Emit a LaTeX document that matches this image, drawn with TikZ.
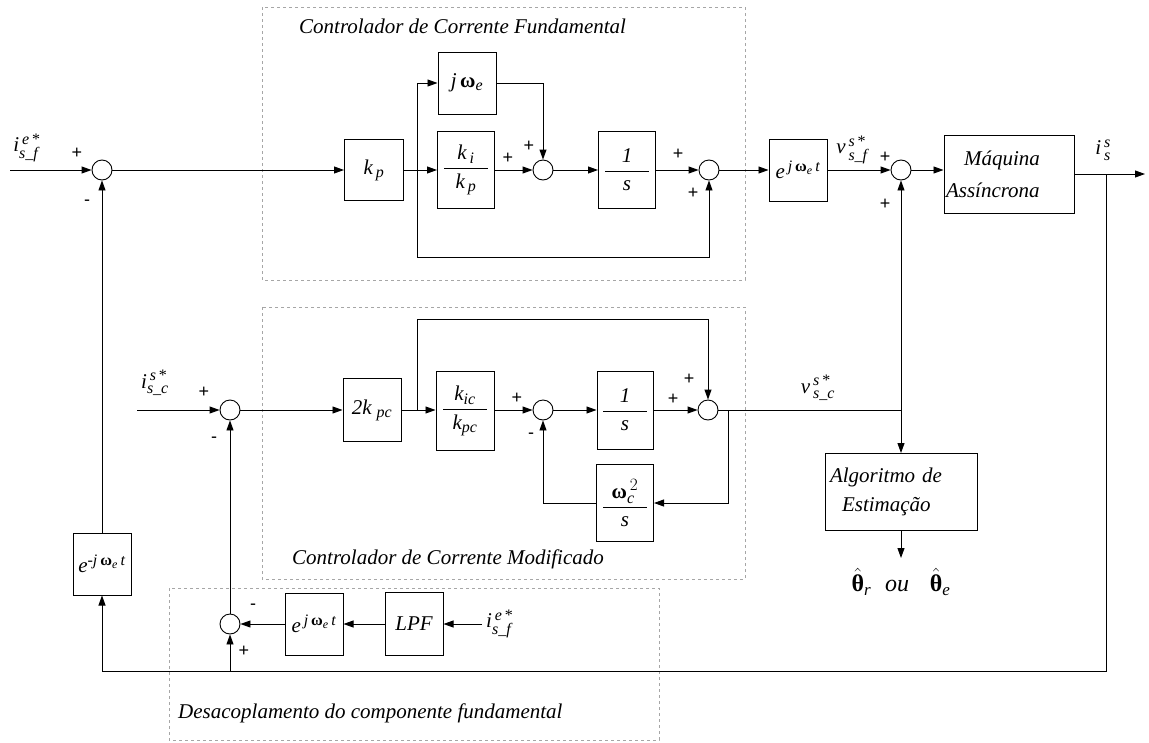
\documentclass[tikz,border=0pt]{standalone}
\usepackage{amsmath}
\usepackage{fontspec}
\setmainfont{Liberation Serif}
\setsansfont{Liberation Sans}
\usetikzlibrary{arrows.meta}
\DeclareMathSizes{21}{21}{16}{12}
\DeclareMathSizes{24}{24}{17}{13}
\newcommand\ti[1]{\text{\itshape #1}}
\newcommand\bw{\text{\bfseries ω}}
\newcommand\bth{\text{\bfseries θ}}
\newcommand\fr[2]{$\dfrac{\makebox[44pt]{$#1$}}{\makebox[44pt]{$#2$}}$}
\begin{document}
\begin{tikzpicture}[x=1pt,y=-1pt,
  font=\fontsize{21}{25}\selectfont,
  >={Triangle[length=10pt,width=7pt]},
  blk/.style={draw,line width=1pt,inner sep=0pt},
  sumj/.style={draw,circle,minimum size=20pt,inner sep=0pt,line width=0.9pt},
  sgn/.style={font=\sffamily\fontsize{18}{18}\selectfont,inner sep=0pt},
  grp/.style={draw=gray!70,line width=0.8pt,dash pattern=on 3pt off 3pt},
  ttl/.style={font=\itshape\fontsize{21}{25}\selectfont,anchor=west,inner sep=0pt},
  sig/.style={inner sep=0pt},
  flow/.style={->,line width=0.9pt},
  wire/.style={line width=0.9pt}]
\useasboundingbox (0,0) rectangle (1149,742);

% dashed group frames
\draw[grp] (262,7) rectangle (745,280);
\draw[grp] (262,307) rectangle (745,579);
\draw[grp] (169,588) rectangle (659,740);
\node[ttl] (t1) at (299,26) {Controlador de Corrente Fundamental};
\node[ttl] (t2) at (292,559) {Controlador de Corrente Modificado};
\node[ttl] (t3) at (178,713) {Desacoplamento do componente fundamental};

% summing junctions
\node[sumj] (s1) at (102,170) {};
\node[sumj] (s2) at (543,170) {};
\node[sumj] (s3) at (709,170) {};
\node[sumj] (s4) at (901,170) {};
\node[sumj] (s5) at (230,410) {};
\node[sumj] (s6) at (543,410) {};
\node[sumj] (s7) at (708,410) {};
\node[sumj] (s8) at (230,624) {};

% blocks of the fundamental current controller
\node[blk,minimum width=59pt,minimum height=61pt] (kp) at (374,170) {$\ti{k}_{\,\ti{p}}$};
\node[blk,minimum width=58pt,minimum height=62pt] (jw) at (467,83) {$\ti{j}\,\bw_{\ti{e}}$};
\node[blk,minimum width=57pt,minimum height=77pt] (kikp) at (466,170) {\fr{\ti{k}_{\,\ti{i}}}{\ti{k}_{\,\ti{p}}}};
\node[blk,minimum width=57pt,minimum height=77pt] (inv1) at (627,170) {\fr{\ti{1}}{\ti{s}}};
\node[blk,minimum width=58pt,minimum height=62pt] (ejw1) at (798,170) {$\ti{e}^{\,\ti{j}\,\bw_{\ti{e}}\,\ti{t}}$};
\node[blk,minimum width=130pt,minimum height=78pt,align=left,text width=126pt,font=\itshape\fontsize{21}{32}\selectfont] (mach) at (1009,174) {\hspace*{18pt}Máquina\\Assíncrona};

% blocks of the modified current controller
\node[blk,minimum width=58pt,minimum height=63pt] (twokpc) at (372,410) {$\ti{2k}_{\;\ti{pc}}$};
\node[blk,minimum width=58pt,minimum height=79pt] (kic) at (465,411) {\fr{\ti{k}_{\ti{ic}}}{\ti{k}_{\ti{pc}}}};
\node[blk,minimum width=56pt,minimum height=78pt] (inv2) at (625,410) {\fr{\ti{1}}{\ti{s}}};
\node[blk,minimum width=57pt,minimum height=77pt] (wc) at (625,503) {\fr{\bw^{\,2}_{\ti{c}}}{\ti{s}}};
\node[blk,minimum width=152pt,minimum height=77pt,align=left,text width=142pt,font=\itshape\fontsize{21}{29}\selectfont] (alg) at (901,492) {Algoritmo de\\\hspace*{12pt}Estimação};

% decoupling blocks
\node[blk,minimum width=58pt,minimum height=62pt] (ejwm) at (102,564) {$\ti{e}^{\ti{-j}\,\bw_{\ti{e}}\,\ti{t}}$};
\node[blk,minimum width=58pt,minimum height=62pt] (ejw2) at (314,624) {$\ti{e}^{\,\ti{j}\,\bw_{\ti{e}}\,\ti{t}}$};
\node[blk,minimum width=58pt,minimum height=63pt,font=\itshape\fontsize{21}{25}\selectfont] (lpf) at (414,624) {LPF};

% helper points
\coordinate (in1) at (10,170);
\coordinate (b1) at (417,170);
\coordinate (lo1) at (417,257);
\coordinate (in2) at (137,410);
\coordinate (b2) at (417,410);
\coordinate (up2) at (417,319);
\coordinate (b3) at (728,410);
\coordinate (vj) at (901,410);
\coordinate (tap) at (1106,174);
\coordinate (out) at (1145,174);
\coordinate (br) at (1106,671);
\coordinate (bm) at (230,671);
\coordinate (bl) at (102,671);
\coordinate (est) at (901,558);
\coordinate (lpfin) at (482,624);

% fundamental path
\draw[flow] (in1) -- (s1);
\draw[flow] (s1) -- (kp);
\draw[flow] (kp) -- (kikp);
\draw[flow] (b1) |- (jw);
\draw[flow] (b1) -- (lo1) -| (s3);
\draw[flow] (jw) -| (s2);
\draw[flow] (kikp) -- (s2);
\draw[flow] (s2) -- (inv1);
\draw[flow] (inv1) -- (s3);
\draw[flow] (s3) -- (ejw1);
\draw[flow] (ejw1) -- (s4);
\draw[flow] (s4.east) -- (s4.east -| mach.west);
\draw[flow] (mach) -- (out);

% current feedback
\draw[wire] (tap) -- (br) -- (bl);
\draw[flow] (bl) -- (ejwm);
\draw[flow] (ejwm) -- (s1);
\draw[flow] (bm) -- (s8);

% modified controller path
\draw[flow] (in2) -- (s5);
\draw[flow] (s5) -- (twokpc);
\draw[flow] (twokpc.east) -- (twokpc.east -| kic.west);
\draw[flow] (b2) -- (up2) -| (s7);
\draw[flow] (kic.east |- s6) -- (s6);
\draw[flow] (s6) -- (inv2);
\draw[flow] (inv2) -- (s7);
\draw[wire] (s7) -- (vj);
\draw[flow] (vj) -- (s4);
\draw[flow] (vj) -- (alg);
\draw[flow] (b3) |- (wc);
\draw[flow] (wc) -| (s6);
\draw[flow] (alg) -- (est);

% decoupling path
\draw[flow] (lpfin) -- (lpf);
\draw[flow] (lpf) -- (ejw2);
\draw[flow] (ejw2) -- (s8);
\draw[flow] (s8) -- (s5);

% signal labels
\node[sig] (l1) at (27,148) {$\ti{i}^{\,\ti{e}\,\text{*}}_{\ti{s\_f}}$};
\node[sig] (l2) at (852,150) {$\ti{v}^{\,\ti{s}\,\text{*}}_{\,\ti{s\_f}}$};
\node[sig] (l3) at (1103,150) {$\ti{i}^{\,\ti{s}}_{\,\ti{s}}$};
\node[sig] (l4) at (155,383) {$\ti{i}^{\,\ti{s}\,\text{*}}_{\ti{s\_c}}$};
\node[sig] (l5) at (818,388) {$\ti{v}^{\,\ti{s}\,\text{*}}_{\,\ti{s\_c}}$};
\node[sig,anchor=west] (l6) at (486,624) {$\ti{i}^{\,\ti{e}\,\text{*}}_{\ti{s\_f}}$};
\node[sig,font=\fontsize{24}{28}\selectfont] (l7) at (901,582) {$\hat{\bth}_{\ti{r}}\;\;\ti{ou}\;\;\;\hat{\bth}_{\ti{e}}$};

% signs at the junctions
\node[sgn] (p1a) at (77,153) {+};
\node[sgn] (p1b) at (87,203) {-};
\node[sgn] (p2a) at (508,158) {+};
\node[sgn] (p2b) at (529,146) {+};
\node[sgn] (p3a) at (678,154) {+};
\node[sgn] (p3b) at (693,193) {+};
\node[sgn] (p4a) at (885,157) {+};
\node[sgn] (p4b) at (885,204) {+};
\node[sgn] (p5a) at (204,392) {+};
\node[sgn] (p5b) at (214,440) {-};
\node[sgn] (p6a) at (517,398) {+};
\node[sgn] (p6b) at (531,436) {-};
\node[sgn] (p7a) at (673,399) {+};
\node[sgn] (p7b) at (689,379) {+};
\node[sgn] (p8a) at (253,607) {-};
\node[sgn] (p8b) at (244,651) {+};
\end{tikzpicture}
\end{document}
